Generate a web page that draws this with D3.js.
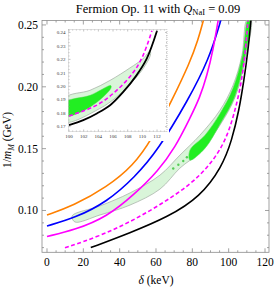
<!DOCTYPE html>
<html>
<head>
<meta charset="utf-8">
<script src="https://cdn.jsdelivr.net/npm/d3@7"></script>
<style>
  body { margin: 0; background: #fff; }
  text { font-family: "Liberation Serif", "DejaVu Serif", serif; }
</style>
</head>
<body>
<div class="chart"></div>
<script>
var width = 275, height = 287;

// main panel curves, [delta (keV), 1/m (GeV)]
var orange = [[0, 0.0964], [14.3, 0.1036], [33.0, 0.1190], [47.3, 0.1359], [57.8, 0.1577], [68.8, 0.1891], [78.7, 0.2198], [83.1, 0.2375], [86.2, 0.2544]];
var blue = [[0, 0.0875], [15.4, 0.0940], [33.0, 0.1069], [48.4, 0.1270], [61.1, 0.1488], [77.6, 0.1891], [89.2, 0.2222], [95.8, 0.2544]];
var magenta = [[0, 0.0790], [15.4, 0.0843], [33.0, 0.0948], [48.4, 0.1134], [61.1, 0.1319], [70.5, 0.1508], [78.7, 0.1746], [84.2, 0.1915], [88.1, 0.2093], [91.4, 0.2294], [94.3, 0.2544]];
var magentaDash = [[9.9, 0.0698], [29.2, 0.0794], [45.7, 0.0907], [62.2, 0.1044], [78.7, 0.1206], [89.7, 0.1367], [98.0, 0.1552], [102.9, 0.1770], [106.8, 0.2012], [109.0, 0.2254], [110.7, 0.2544]];
var black = [[24.1, 0.0700], [45.7, 0.0819], [66.6, 0.0948], [84.2, 0.1109], [96.3, 0.1351], [101.8, 0.1569], [105.7, 0.1810], [108.4, 0.2052], [110.7, 0.2294], [112.3, 0.2544]];

// allowed band (upper and lower edge) and dense green region
var bandUpper = [[13.8, 0.0956], [29.2, 0.1037], [45.7, 0.1142], [62.2, 0.1286], [73.2, 0.1448], [84.2, 0.1609], [95.2, 0.1810], [102.4, 0.2012], [107.3, 0.2254], [110.1, 0.2544]];
var bandLower = [[15.4, 0.0907], [29.2, 0.0964], [45.7, 0.1044], [62.2, 0.1173], [73.2, 0.1343], [84.2, 0.1472], [95.2, 0.1690], [103.5, 0.1915], [109.0, 0.2214], [112.3, 0.2544]];
var greenUpper = [[78.7, 0.1488], [87.0, 0.1609], [95.2, 0.1783], [102.4, 0.1988], [107.6, 0.2254], [110.6, 0.2544]];
var greenLower = [[78.7, 0.1407], [87.0, 0.1504], [95.2, 0.1698], [103.2, 0.1915], [108.6, 0.2214], [111.7, 0.2544]];
var greenDots = [[69.5, 0.1340], [72.3, 0.1370], [75.0, 0.1400], [77.0, 0.1430]];

// inset curves
var insetBlack = [[100, 0.1711], [101.95, 0.1748], [103.8, 0.1798], [105.6, 0.1859], [107.4, 0.1958], [109.2, 0.2081], [110.6, 0.2205], [112.0, 0.2412]];
var insetDash = [[100, 0.1780], [103.8, 0.1860], [106.5, 0.1970], [108.8, 0.2106], [110.1, 0.2230], [111.3, 0.2412]];
var insetBandUpper = [[99.5, 0.1913], [102.86, 0.1970], [105.6, 0.2044], [108.3, 0.2136], [110.1, 0.2205], [111.05, 0.2262]];
var insetBandLower = [[99.5, 0.1736], [104.2, 0.1835], [106.5, 0.1921], [108.8, 0.2044], [110.1, 0.2131], [111.1, 0.2232]];
var insetGreenUpper = [[99.5, 0.1879], [102.9, 0.1933], [105.7, 0.2005]];
var insetGreenLower = [[99.5, 0.1780], [102.9, 0.1847], [105.7, 0.1985]];

var xTicks = [0, 20, 40, 60, 80, 100, 120];
var yTicks = [0.10, 0.15, 0.20, 0.25];
var insetXTicks = [100, 102, 104, 106, 108, 110, 112];
var insetYTicks = [0.17, 0.18, 0.19, 0.20, 0.21, 0.22, 0.23, 0.24];

var svg = d3.select('.chart').append('svg')
  .attr('width', width)
  .attr('height', height);

var x = d3.scaleLinear().domain([-2.75, 122.2]).range([42, 269]);
var y = d3.scaleLinear().domain([0.0662, 0.2536]).range([252.3, 20.5]);

var frameColor = '#8a8a8a';

var defs = svg.append('defs');
defs.append('clipPath').attr('id', 'mainclip')
  .append('rect').attr('x', 42).attr('y', 20.5).attr('width', 227).attr('height', 231.8);

// frame ticks on all four sides, pointing inward
function frameTicks(g, xs, ys, X, Y, opt) {
  var x0 = X.range()[0], x1 = X.range()[1], y0 = Y.range()[0], y1 = Y.range()[1];
  xs.forEach(function (t) {
    var px = X(t), len = opt.isMajorX(t) ? opt.major : opt.minor;
    g.append('line').attr('x1', px).attr('x2', px).attr('y1', y0).attr('y2', y0 - len);
    g.append('line').attr('x1', px).attr('x2', px).attr('y1', y1).attr('y2', y1 + len);
  });
  ys.forEach(function (t) {
    var py = Y(t), len = opt.isMajorY(t) ? opt.major : opt.minor;
    g.append('line').attr('x1', x0).attr('x2', x0 + len).attr('y1', py).attr('y2', py);
    g.append('line').attr('x1', x1).attr('x2', x1 - len).attr('y1', py).attr('y2', py);
  });
}

var axisG = svg.append('g').attr('stroke', frameColor).attr('stroke-width', 0.8);
axisG.append('rect').attr('x', 42).attr('y', 20.5).attr('width', 227).attr('height', 231.8).attr('fill', 'none');
frameTicks(axisG, d3.range(0, 121, 5), d3.range(0.07, 0.2536, 0.01), x, y, {
  major: 4, minor: 2,
  isMajorX: function (t) { return t % 20 === 0; },
  isMajorY: function (t) { return Math.abs(Math.round(t * 20) - t * 20) < 1e-6; }
});

// tick labels
svg.append('g').selectAll('text').data(xTicks).enter().append('text')
  .attr('x', function (d) { return x(d); })
  .attr('y', 266)
  .attr('text-anchor', 'middle')
  .style('font-size', '11.5px')
  .text(function (d) { return d; });

svg.append('g').selectAll('text').data(yTicks).enter().append('text')
  .attr('x', 38)
  .attr('y', function (d) { return y(d) + 4; })
  .attr('text-anchor', 'end')
  .style('font-size', '11.5px')
  .text(function (d) { return d.toFixed(2); });

// titles
var title = svg.append('text')
  .attr('x', 158).attr('y', 12.5)
  .attr('text-anchor', 'middle')
  .style('font-size', '12.5px');
title.append('tspan').text('Fermion Op. 11 with ');
title.append('tspan').style('font-style', 'italic').text('Q');
title.append('tspan').attr('dy', 2.5).style('font-size', '8.5px').text('NaI');
title.append('tspan').attr('dy', -2.5).text(' = 0.09');

svg.append('text')
  .attr('x', 156).attr('y', 284)
  .attr('text-anchor', 'middle')
  .style('font-size', '11.5px')
  .html('<tspan font-style="italic">δ</tspan> (keV)');

var yl = svg.append('text')
  .attr('transform', 'translate(11,140)rotate(-90)')
  .attr('text-anchor', 'middle')
  .style('font-size', '11.5px');
yl.append('tspan').text('1/');
yl.append('tspan').style('font-style', 'italic').text('m');
yl.append('tspan').attr('dy', 2.5).style('font-style', 'italic').style('font-size', '8px').text('M');
yl.append('tspan').attr('dy', -2.5).text(' (GeV)');

// plot content
var plot = svg.append('g').attr('clip-path', 'url(#mainclip)');

function closedShape(X, Y, up, lo) {
  var pts = up.concat(lo.slice().reverse());
  return d3.line().x(function (d) { return X(d[0]); }).y(function (d) { return Y(d[1]); })
    .curve(d3.curveCatmullRomClosed.alpha(0.5))(pts);
}
function curve(X, Y, kind) {
  return d3.line().x(function (d) { return X(d[0]); }).y(function (d) { return Y(d[1]); })
    .curve(kind || d3.curveBasis);
}

plot.append('path').attr('d', closedShape(x, y, bandUpper, bandLower))
  .attr('fill', '#d9f5d9').attr('stroke', '#a9b5a9').attr('stroke-width', 0.8);
plot.append('path').attr('d', closedShape(x, y, greenUpper, greenLower))
  .attr('fill', '#22ee22').attr('stroke', '#55dd55').attr('stroke-width', 0.6);
plot.selectAll('.dot').data(greenDots).enter().append('circle')
  .attr('class', 'dot')
  .attr('cx', function (d) { return x(d[0]); })
  .attr('cy', function (d) { return y(d[1]); })
  .attr('r', 1.2).attr('fill', '#55cc55');

var lw = 1.6;
plot.append('path').attr('d', curve(x, y)(orange)).attr('fill', 'none').attr('stroke', '#ff8000').attr('stroke-width', lw);
plot.append('path').attr('d', curve(x, y)(blue)).attr('fill', 'none').attr('stroke', '#0000ff').attr('stroke-width', lw);
plot.append('path').attr('d', curve(x, y)(magenta)).attr('fill', 'none').attr('stroke', '#ff00ff').attr('stroke-width', lw);
plot.append('path').attr('d', curve(x, y)(magentaDash)).attr('fill', 'none').attr('stroke', '#ff00ff').attr('stroke-width', lw).attr('stroke-dasharray', '4,2.5');
plot.append('path').attr('d', curve(x, y)(black)).attr('fill', 'none').attr('stroke', '#000').attr('stroke-width', lw);

// ---- inset ----
var ix = d3.scaleLinear().domain([99.93, 113.36]).range([68.5, 167]);
var iy = d3.scaleLinear().domain([0.1664, 0.2422]).range([131.5, 29.5]);

defs.append('clipPath').attr('id', 'insetclip')
  .append('rect').attr('x', 68.5).attr('y', 29.5).attr('width', 98.5).attr('height', 102);

svg.append('rect').attr('x', 56).attr('y', 27).attr('width', 113).attr('height', 114).attr('fill', '#fff');

var inset = svg.append('g').attr('clip-path', 'url(#insetclip)');
inset.append('path').attr('d', closedShape(ix, iy, insetBandUpper, insetBandLower))
  .attr('fill', '#d9f5d9').attr('stroke', '#a9b5a9').attr('stroke-width', 0.8);
inset.append('path').attr('d', closedShape(ix, iy, insetGreenUpper, insetGreenLower))
  .attr('fill', '#22ee22').attr('stroke', '#44dd44').attr('stroke-width', 0.5);
inset.append('path').attr('d', curve(ix, iy, d3.curveCatmullRom)(insetDash)).attr('fill', 'none').attr('stroke', '#ff00ff').attr('stroke-width', lw).attr('stroke-dasharray', '4,2.5');
inset.append('path').attr('d', curve(ix, iy, d3.curveCatmullRom)(insetBlack)).attr('fill', 'none').attr('stroke', '#000').attr('stroke-width', 1.8);

var iaxis = svg.append('g').attr('stroke', '#999').attr('stroke-width', 0.6);
iaxis.append('rect').attr('x', 68.5).attr('y', 29.5).attr('width', 98.5).attr('height', 102)
  .attr('fill', 'none').attr('stroke-dasharray', '1,1');
frameTicks(iaxis, d3.range(100, 113.1, 0.5), d3.range(0.17, 0.2415, 0.0025), ix, iy, {
  major: 2, minor: 1,
  isMajorX: function (t) { return t % 2 === 0; },
  isMajorY: function (t) { return Math.abs(Math.round(t * 100) - t * 100) < 1e-6; }
});

svg.append('g').selectAll('text').data(insetXTicks).enter().append('text')
  .attr('x', function (d) { return ix(d); })
  .attr('y', 138)
  .attr('text-anchor', 'middle')
  .style('font-size', '5px')
  .attr('fill', '#333')
  .text(function (d) { return d; });

svg.append('g').selectAll('text').data(insetYTicks).enter().append('text')
  .attr('x', 65.5)
  .attr('y', function (d) { return iy(d) + 1.7; })
  .attr('text-anchor', 'end')
  .style('font-size', '5px')
  .attr('fill', '#333')
  .text(function (d) { return d.toFixed(2); });
</script>
</body>
</html>
